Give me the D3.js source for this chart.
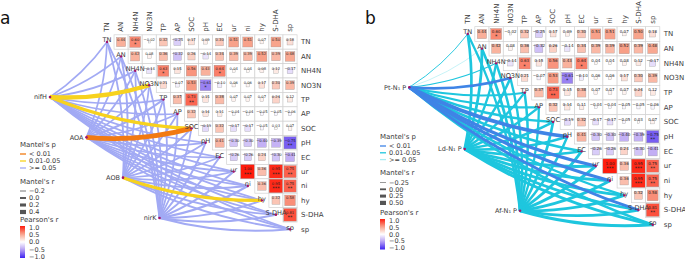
<!DOCTYPE html>
<html>
<head>
<meta charset="utf-8">
<script src="https://cdn.jsdelivr.net/npm/d3@7"></script>
<style>
  body { margin: 0; background: #fff; }
  text { font-family: "DejaVu Sans", sans-serif; fill: #3a3a3a; }
</style>
</head>
<body>
<div id="chart"></div>
<script>
// variables of the correlation matrix
const vars = ["TN", "AN", "NH4N", "NO3N", "TP", "AP", "SOC", "pH", "EC", "ur", "ni", "hy", "S-DHA", "sp"];

// upper triangle, row i holds r(vars[i], vars[j]) for j > i
const corrValues = [
  [0.44, 0.60, -0.02, 0.32, -0.25, 0.17, 0.09, 0.30, 0.51, 0.51, 0.07, 0.50, 0.18],
  [0.42, 0.08, 0.36, -0.32, 0.26, -0.14, 0.34, 0.39, 0.39, 0.52, 0.39, 0.48],
  [-0.14, 0.63, 0.15, 0.56, 0.43, 0.64, 0.04, 0.04, 0.08, 0.12, -0.17],
  [0.21, -0.07, 0.53, -0.61, -0.10, 0.06, 0.06, 0.17, 0.30, 0.39],
  [0.37, 0.73, 0.15, 0.38, 0.07, 0.07, 0.07, 0.24, 0.12],
  [0.32, 0.14, 0.11, -0.04, -0.04, -0.05, -0.05, -0.06],
  [-0.19, 0.32, -0.17, -0.17, -0.05, 0.03, 0.07],
  [0.41, -0.30, -0.30, -0.40, -0.39, -0.75],
  [-0.26, -0.26, 0.24, -0.30, -0.41],
  [1.00, 0.36, 0.95, 0.75],
  [0.36, 0.95, 0.75],
  [0.32, 0.58],
  [0.81]
];
const corrStars = [
  ["", "*", "", "", "", "", "", "", "", "", "", "", ""],
  ["", "", "", "", "", "", "", "", "", "", "", ""],
  ["", "*", "", "", "", "*", "", "", "", "", ""],
  ["", "", "", "*", "", "", "", "", "", ""],
  ["", "**", "", "", "", "", "", "", ""],
  ["", "", "", "", "", "", "", ""],
  ["", "", "", "", "", "", ""],
  ["", "", "", "", "", "**"],
  ["", "", "", "", ""],
  ["***", "", "***", "**"],
  ["", "***", "**"],
  ["", ""],
  ["**"]
];

// Mantel tests, panel a
const nodesA = ["nifH", "AOA", "AOB", "nirK"];
const mantelRA = [
  [-0.05, -0.02, 0.00, 0.42, -0.03, -0.05, 0.28, -0.04, -0.06, -0.02, -0.02, -0.05, -0.03, -0.04],
  [-0.04, -0.03, -0.02, -0.03, 0.00, -0.01, 0.50, -0.02, -0.05, -0.03, -0.03, -0.04, -0.02, -0.03],
  [-0.02, 0.00, -0.03, -0.04, -0.02, -0.03, -0.01, -0.04, -0.03, -0.02, -0.02, 0.22, -0.03, -0.02],
  [-0.03, -0.02, -0.02, -0.03, -0.02, -0.02, -0.03, -0.01, 0.00, 0.02, 0.02, 0.00, 0.01, 0.02]
];
// 0: < 0.01, 1: 0.01-0.05, 2: >= 0.05
const mantelPA = [
  [2, 2, 2, 1, 2, 2, 1, 2, 2, 2, 2, 2, 2, 2],
  [2, 2, 2, 2, 2, 2, 0, 2, 2, 2, 2, 2, 2, 2],
  [2, 2, 2, 2, 2, 2, 2, 2, 2, 2, 2, 1, 2, 2],
  [2, 2, 2, 2, 2, 2, 2, 2, 2, 2, 2, 2, 2, 2]
];

// Mantel tests, panel b
const nodesB = ["Pt-N₁ P", "Ld-N₁ P", "Af-N₁ P"];
const mantelRB = [
  [-0.18, -0.24, -0.15, 0.22, 0.05, 0.08, 0.14, 0.42, 0.16, 0.30, 0.30, 0.12, 0.22, 0.16],
  [0.18, 0.20, 0.12, 0.15, 0.10, 0.14, 0.16, 0.18, 0.15, 0.22, 0.22, 0.20, 0.18, 0.24],
  [0.14, 0.18, 0.16, 0.12, 0.15, 0.10, 0.18, 0.14, 0.20, 0.24, 0.24, 0.22, 0.20, 0.26]
];
const mantelPB = [
  [1, 2, 1, 0, 1, 1, 1, 0, 1, 0, 0, 1, 0, 1],
  [1, 1, 1, 1, 1, 1, 1, 1, 1, 1, 1, 1, 1, 1],
  [1, 1, 1, 1, 1, 1, 1, 1, 1, 1, 1, 1, 1, 1]
];

const pLabels = ["< 0.01", "0.01-0.05", ">= 0.05"];
const rLegendA = [-0.2, 0.0, 0.2, 0.4];
const rLegendB = [-0.25, 0.00, 0.25, 0.50];
const pearsonTicks = [1.0, 0.5, 0.0, -0.5, -1.0];

const width = 685, height = 260;

const svg = d3.select("#chart").append("svg")
  .attr("width", width)
  .attr("height", height)
  .style("display", "block");

svg.append("rect").attr("width", width).attr("height", height).attr("fill", "#fff");

// Pearson colour scale, blue - white - red
const pearsonColor = d3.scaleLinear()
  .domain([-1, -0.5, 0, 0.5, 1])
  .range(["#3b20f2", "#b49cf2", "#ffffff", "#f8a48c", "#ff1c0c"]);

let gradDefs = svg.append("defs");
let grad = gradDefs.append("linearGradient")
  .attr("id", "pearson-grad")
  .attr("x1", "0%").attr("y1", "0%").attr("x2", "0%").attr("y2", "100%");
grad.selectAll("stop")
  .data(d3.range(11).map(i => i / 10))
  .enter().append("stop")
  .attr("offset", d => d * 100 + "%")
  .attr("stop-color", d => pearsonColor(1 - 2 * d));

const panelA = {
  tag: "a", tagX: 0, tagY: 24,
  x0: 107, y0: 42, dx: 14.08, dy: 14.4, numSize: 3.7,
  nodes: nodesA, mantelR: mantelRA, mantelP: mantelPA,
  nodeStart: [50, 97], nodeEnd: [159.5, 218],
  pColors: ["#f27a12", "#f7d21e", "#a2aaf4"],
  rScale: d3.scaleLinear().domain([-0.2, 0.4]).range([0.8, 4.2]),
  rLegend: rLegendA, rFormat: d3.format(".1f"),
  legend: { x: 20, pTitle: 145, pStep: 7, rTitle: 182, barTop: 226, barBottom: 258, titleGap: 9 }
};

const panelB = {
  tag: "b", tagX: 365, tagY: 24,
  x0: 467.7, y0: 34, dx: 14.23, dy: 14.67, numSize: 4.0,
  nodes: nodesB, mantelR: mantelRB, mantelP: mantelPB,
  nodeStart: [409.3, 87.3], nodeEnd: [520, 210.7],
  pColors: ["#3f84e6", "#1ec6de", "#a8ecf3"],
  rScale: d3.scaleLinear().domain([-0.25, 0.5]).range([0.6, 4.2]),
  rLegend: rLegendB, rFormat: d3.format(".2f"),
  legend: { x: 380, pTitle: 136.5, pStep: 6.8, rTitle: 173, barTop: 219, barBottom: 249.5, titleGap: 9.5 }
};

drawPanel(panelA);
drawPanel(panelB);

function drawPanel(cfg) {
  let g = svg.append("g").attr("class", "panel-" + cfg.tag);

  let x = d3.scalePoint().domain(vars).range([cfg.x0, cfg.x0 + (vars.length - 1) * cfg.dx]);
  let y = d3.scalePoint().domain(vars).range([cfg.y0, cfg.y0 + (vars.length - 1) * cfg.dy]);
  let side = Math.min(cfg.dx, cfg.dy);

  // panel tag
  g.append("text")
    .attr("x", cfg.tagX)
    .attr("y", cfg.tagY)
    .attr("font-size", 17)
    .style("fill", "#111")
    .text(cfg.tag);

  // cells of the upper triangle
  let cells = [];
  corrValues.forEach((row, i) => {
    row.forEach((r, k) => {
      let j = i + k + 1;
      cells.push({ row: vars[i], col: vars[j], r: r, star: corrStars[i][k] });
    });
  });

  let cellG = g.append("g").attr("class", "cells");
  let cell = cellG.selectAll("g.cell")
    .data(cells)
    .enter().append("g")
    .attr("class", "cell")
    .attr("transform", d => `translate(${x(d.col)},${y(d.row)})`);

  cell.append("rect")
    .attr("x", -cfg.dx / 2)
    .attr("y", -cfg.dy / 2)
    .attr("width", cfg.dx)
    .attr("height", cfg.dy)
    .attr("fill", "#fff")
    .attr("stroke", "#d2d2d2")
    .attr("stroke-width", 0.7);

  cell.append("rect")
    .attr("x", d => -Math.sqrt(Math.abs(d.r)) * side / 2)
    .attr("y", d => -Math.sqrt(Math.abs(d.r)) * side / 2)
    .attr("width", d => Math.sqrt(Math.abs(d.r)) * side)
    .attr("height", d => Math.sqrt(Math.abs(d.r)) * side)
    .attr("fill", d => pearsonColor(d.r))
    .attr("stroke", "#9a9a9a")
    .attr("stroke-width", 0.35);

  cell.append("text")
    .attr("text-anchor", "middle")
    .attr("y", -1.2)
    .attr("font-size", cfg.numSize)
    .style("fill", "#222")
    .text(d => d3.format(".2f")(d.r));

  cell.append("text")
    .attr("text-anchor", "middle")
    .attr("y", 4.2)
    .attr("font-size", 5)
    .style("fill", "#222")
    .text(d => d.star);

  // column labels on top
  g.selectAll("text.col-label")
    .data(vars)
    .enter().append("text")
    .attr("class", "col-label")
    .attr("transform", d => `translate(${x(d) + 2.4},${cfg.y0 - cfg.dy / 2 - 3}) rotate(-90)`)
    .attr("font-size", 7)
    .text(d => d);

  // row labels on the right
  g.selectAll("text.row-label")
    .data(vars)
    .enter().append("text")
    .attr("class", "row-label")
    .attr("x", cfg.x0 + (vars.length - 1) * cfg.dx + cfg.dx / 2 + 4)
    .attr("y", d => y(d))
    .attr("dy", "0.35em")
    .attr("font-size", 7)
    .text(d => d);

  // left nodes spread evenly along a line
  let nx = d3.scaleLinear().domain([0, cfg.nodes.length - 1]).range([cfg.nodeStart[0], cfg.nodeEnd[0]]);
  let ny = d3.scaleLinear().domain([0, cfg.nodes.length - 1]).range([cfg.nodeStart[1], cfg.nodeEnd[1]]);

  let links = [];
  cfg.nodes.forEach((n, k) => {
    vars.forEach((v, j) => {
      links.push({
        x1: nx(k), y1: ny(k), x2: x(v), y2: y(v),
        r: cfg.mantelR[k][j], p: cfg.mantelP[k][j]
      });
    });
  });
  // significant links drawn last
  links.sort((a, b) => b.p - a.p);

  let curvature = 0.09;
  g.append("g").attr("class", "links")
    .selectAll("path")
    .data(links)
    .enter().append("path")
    .attr("d", d => {
      let ddx = d.x2 - d.x1, ddy = d.y2 - d.y1;
      let cx = (d.x1 + d.x2) / 2 - ddy * curvature;
      let cy = (d.y1 + d.y2) / 2 + ddx * curvature;
      return `M${d.x1},${d.y1} Q${cx},${cy} ${d.x2},${d.y2}`;
    })
    .attr("fill", "none")
    .attr("stroke", d => cfg.pColors[d.p])
    .attr("stroke-width", d => cfg.rScale(d.r))
    .attr("stroke-linecap", "butt");

  // diagonal labels and dots
  g.selectAll("text.diag-label")
    .data(vars)
    .enter().append("text")
    .attr("class", "diag-label")
    .attr("x", d => x(d))
    .attr("y", d => y(d) - 2)
    .attr("dy", "0.35em")
    .attr("text-anchor", "middle")
    .attr("font-size", 6.6)
    .text(d => d);

  g.selectAll("circle.diag-dot")
    .data(vars)
    .enter().append("circle")
    .attr("class", "diag-dot")
    .attr("cx", d => x(d))
    .attr("cy", d => y(d))
    .attr("r", 1.2)
    .attr("fill", "#a3136a");

  // left node dots and labels
  g.selectAll("circle.node-dot")
    .data(cfg.nodes)
    .enter().append("circle")
    .attr("class", "node-dot")
    .attr("cx", (d, k) => nx(k))
    .attr("cy", (d, k) => ny(k))
    .attr("r", 1.3)
    .attr("fill", "#a3136a");

  g.selectAll("text.node-label")
    .data(cfg.nodes)
    .enter().append("text")
    .attr("class", "node-label")
    .attr("x", (d, k) => nx(k) - 3)
    .attr("y", (d, k) => ny(k))
    .attr("dy", "0.35em")
    .attr("text-anchor", "end")
    .attr("font-size", 6.5)
    .text(d => d);

  drawLegend(g, cfg);
}

function drawLegend(g, cfg) {
  let L = cfg.legend;
  let lg = g.append("g").attr("class", "legend");

  // Mantel's p
  lg.append("text")
    .attr("x", L.x).attr("y", L.pTitle).attr("dy", "0.35em")
    .attr("font-size", 7).text("Mantel's p");
  pLabels.forEach((lab, i) => {
    let yy = L.pTitle + L.titleGap + i * L.pStep;
    lg.append("line")
      .attr("x1", L.x).attr("x2", L.x + 6)
      .attr("y1", yy).attr("y2", yy)
      .attr("stroke", cfg.pColors[i]).attr("stroke-width", 1.3);
    lg.append("text")
      .attr("x", L.x + 9).attr("y", yy).attr("dy", "0.35em")
      .attr("font-size", 6.5).text(lab);
  });

  // Mantel's r
  lg.append("text")
    .attr("x", L.x).attr("y", L.rTitle).attr("dy", "0.35em")
    .attr("font-size", 7).text("Mantel's r");
  cfg.rLegend.forEach((v, i) => {
    let yy = L.rTitle + L.titleGap + i * L.pStep;
    lg.append("line")
      .attr("x1", L.x).attr("x2", L.x + 6)
      .attr("y1", yy).attr("y2", yy)
      .attr("stroke", "#555").attr("stroke-width", cfg.rScale(v));
    lg.append("text")
      .attr("x", L.x + 9).attr("y", yy).attr("dy", "0.35em")
      .attr("font-size", 6.5).text(cfg.rFormat(v));
  });

  // Pearson's r
  lg.append("text")
    .attr("x", L.x).attr("y", L.barTop - 6).attr("dy", "0.35em")
    .attr("font-size", 7).text("Pearson's r");
  lg.append("rect")
    .attr("x", L.x).attr("y", L.barTop)
    .attr("width", 5).attr("height", L.barBottom - L.barTop)
    .attr("fill", "url(#pearson-grad)");
  let py = d3.scaleLinear().domain([1, -1]).range([L.barTop + 1.5, L.barBottom - 1.5]);
  pearsonTicks.forEach(v => {
    lg.append("text")
      .attr("x", L.x + 9).attr("y", py(v)).attr("dy", "0.35em")
      .attr("font-size", 6.5).text(d3.format(".1f")(v));
  });
}
</script>
</body>
</html>
